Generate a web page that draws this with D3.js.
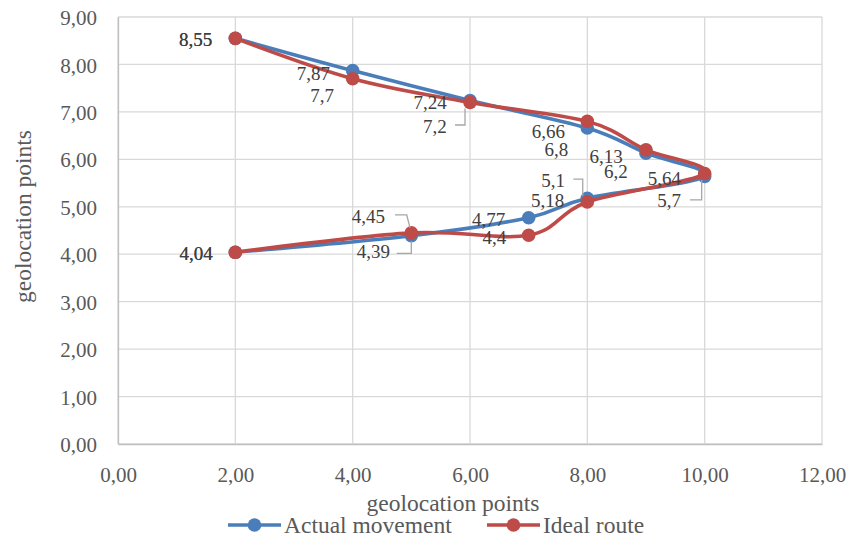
<!DOCTYPE html>
<html>
<head>
<meta charset="utf-8">
<script src="https://cdn.jsdelivr.net/npm/d3@7"></script>
<style>
  html, body { margin: 0; padding: 0; background: #ffffff; }
  svg { display: block; }
</style>
</head>
<body>
<svg id="chart" width="852" height="539"></svg>
<script>
// Route coordinates (x, y) in geolocation points
const actualX = [2, 4, 6, 8, 9, 10, 8, 7, 5, 2];
const actualY = [8.55, 7.87, 7.24, 6.66, 6.13, 5.64, 5.18, 4.77, 4.39, 4.04];
const idealX  = [2, 4, 6, 8, 9, 10, 8, 7, 5, 2];
const idealY  = [8.55, 7.7, 7.2, 6.8, 6.2, 5.7, 5.1, 4.4, 4.45, 4.04];

const seriesNames = ["Actual movement", "Ideal route"];
const xTicks = [0, 2, 4, 6, 8, 10, 12];
const yTicks = [0, 1, 2, 3, 4, 5, 6, 7, 8, 9];
const axisTitle = "geolocation points";

// Label placement: [dx of text end, dy of baseline] relative to the marker
const actualLabelPos = [[-23, 8], [-22.7, 9.4], [-23.3, 8.8], [-22.3, 10.3], [-23.3, 9.5],
                        [-23.7, 8.6], [-23, 8.5], [-23.5, 8.5], [-21.3, 22.3], [-22.6, 7.7]];
const idealLabelPos  = [[-23, 8], [-18.7, 23], [-23.3, 30.3], [-19, 34.6], [-18.3, 28.5],
                        [-23.7, 33], [-22.3, -15.3], [-22.3, 8.7], [-26.3, -9.6], [-22.6, 7.7]];
// Leader lines (offsets from the marker) for labels moved away from their points
const actualLeaders = { 8: [[-14.6, 17.6], [0, 17.6], [0, 5.3]] };
const idealLeaders  = { 2: [[-15, 22.6], [-5, 22.6], [-5, 6]],
                        5: [[-14.7, 26.4], [-3, 26.4], [-3, 6.4]],
                        6: [[-14, -23], [-4.6, -23], [-4.6, -6]],
                        8: [[-16.3, -17.9], [-4.6, -17.9], [-1.3, -5]] };

const colors = ["#4a7ebb", "#be4b48"];
const FONT = "'Liberation Serif', 'Times New Roman', serif";
const fmt = v => d3.format(".2f")(v).replace(".", ",");
const fmtLabel = v => String(v).replace(".", ",");

const svg = d3.select("#chart");
const margin = { left: 118, right: 30, top: 17, bottom: 95 };
const W = 852, H = 539;

const x = d3.scaleLinear().domain([0, 12]).range([margin.left, W - margin.right]);
const y = d3.scaleLinear().domain([0, 9]).range([H - margin.bottom, margin.top]);

// Gridlines
const grid = svg.append("g");
grid.selectAll("line.h").data(yTicks).join("line")
  .attr("x1", x(0)).attr("x2", x(12))
  .attr("y1", d => y(d)).attr("y2", d => y(d))
  .attr("stroke", "#d9d9d9").attr("stroke-width", 1.3);
grid.selectAll("line.v").data(xTicks).join("line")
  .attr("y1", y(0)).attr("y2", y(9))
  .attr("x1", d => x(d)).attr("x2", d => x(d))
  .attr("stroke", "#d9d9d9").attr("stroke-width", 1.3);

// Axes
const xAxis = svg.append("g").attr("transform", `translate(0,${y(0)})`)
  .call(d3.axisBottom(x).tickValues(xTicks).tickFormat(fmt).tickSize(0).tickPadding(30));
const yAxis = svg.append("g").attr("transform", `translate(${x(0)},0)`)
  .call(d3.axisLeft(y).tickValues(yTicks).tickFormat(fmt).tickSize(0).tickPadding(21));
[xAxis, yAxis].forEach(a => {
  a.attr("font-family", null).attr("font-size", null);
  a.select(".domain").attr("stroke", "#bfbfbf").attr("stroke-width", 1.3);
  a.selectAll("text").style("font-family", FONT).style("font-size", "21px").attr("fill", "#595959");
});
xAxis.selectAll("text").attr("dy", null).attr("y", 0)
  .attr("transform", "translate(0,37.5)");
yAxis.selectAll("text").attr("dy", "0.36em");

// Axis titles
svg.append("text").attr("x", 453).attr("y", 511)
  .attr("text-anchor", "middle").style("font-family", FONT).style("font-size", "23.5px")
  .attr("fill", "#595959").text(axisTitle);
svg.append("text").attr("transform", "translate(31,216.5) rotate(-90)")
  .attr("text-anchor", "middle").style("font-family", FONT).style("font-size", "23.5px")
  .attr("fill", "#595959").text(axisTitle);

// Series
const series = [
  { xs: actualX, ys: actualY, pos: actualLabelPos, leaders: actualLeaders, color: colors[0] },
  { xs: idealX, ys: idealY, pos: idealLabelPos, leaders: idealLeaders, color: colors[1] }
];
const line = d3.line().x(d => x(d[0])).y(d => y(d[1])).curve(d3.curveCatmullRom.alpha(0));

series.forEach(s => {
  const pts = s.xs.map((v, i) => [v, s.ys[i]]);
  const g = svg.append("g");
  g.append("path").datum(pts).attr("d", line)
    .attr("fill", "none").attr("stroke", s.color).attr("stroke-width", 3.6)
    .attr("stroke-linejoin", "round").attr("stroke-linecap", "round");
  g.selectAll("circle").data(pts).join("circle")
    .attr("cx", d => x(d[0])).attr("cy", d => y(d[1])).attr("r", 6.8)
    .attr("fill", s.color);
});

// Leader lines and data labels
series.forEach(s => {
  const g = svg.append("g");
  Object.entries(s.leaders).forEach(([i, offs]) => {
    const px = x(s.xs[i]), py = y(s.ys[i]);
    g.append("path")
      .attr("d", d3.line()(offs.map(o => [px + o[0], py + o[1]])))
      .attr("fill", "none").attr("stroke", "#a6a6a6").attr("stroke-width", 1.3);
  });
  s.ys.forEach((v, i) => {
    g.append("text")
      .attr("x", x(s.xs[i]) + s.pos[i][0])
      .attr("y", y(v) + s.pos[i][1])
      .attr("text-anchor", "end")
      .style("font-family", FONT).style("font-size", "19px")
      .attr("fill", "#404040")
      .text(fmtLabel(v));
  });
});

// Legend
const legend = svg.append("g");
const legendItems = [
  { name: seriesNames[0], color: colors[0], x0: 228 },
  { name: seriesNames[1], color: colors[1], x0: 487 }
];
legendItems.forEach(it => {
  legend.append("line").attr("x1", it.x0).attr("x2", it.x0 + 53)
    .attr("y1", 525).attr("y2", 525).attr("stroke", it.color).attr("stroke-width", 3.6);
  legend.append("circle").attr("cx", it.x0 + 26.5).attr("cy", 525).attr("r", 6.8).attr("fill", it.color);
  legend.append("text").attr("x", it.x0 + 56).attr("y", 533)
    .style("font-family", FONT).style("font-size", "23.5px")
    .attr("fill", "#595959").text(it.name);
});
</script>
</body>
</html>
